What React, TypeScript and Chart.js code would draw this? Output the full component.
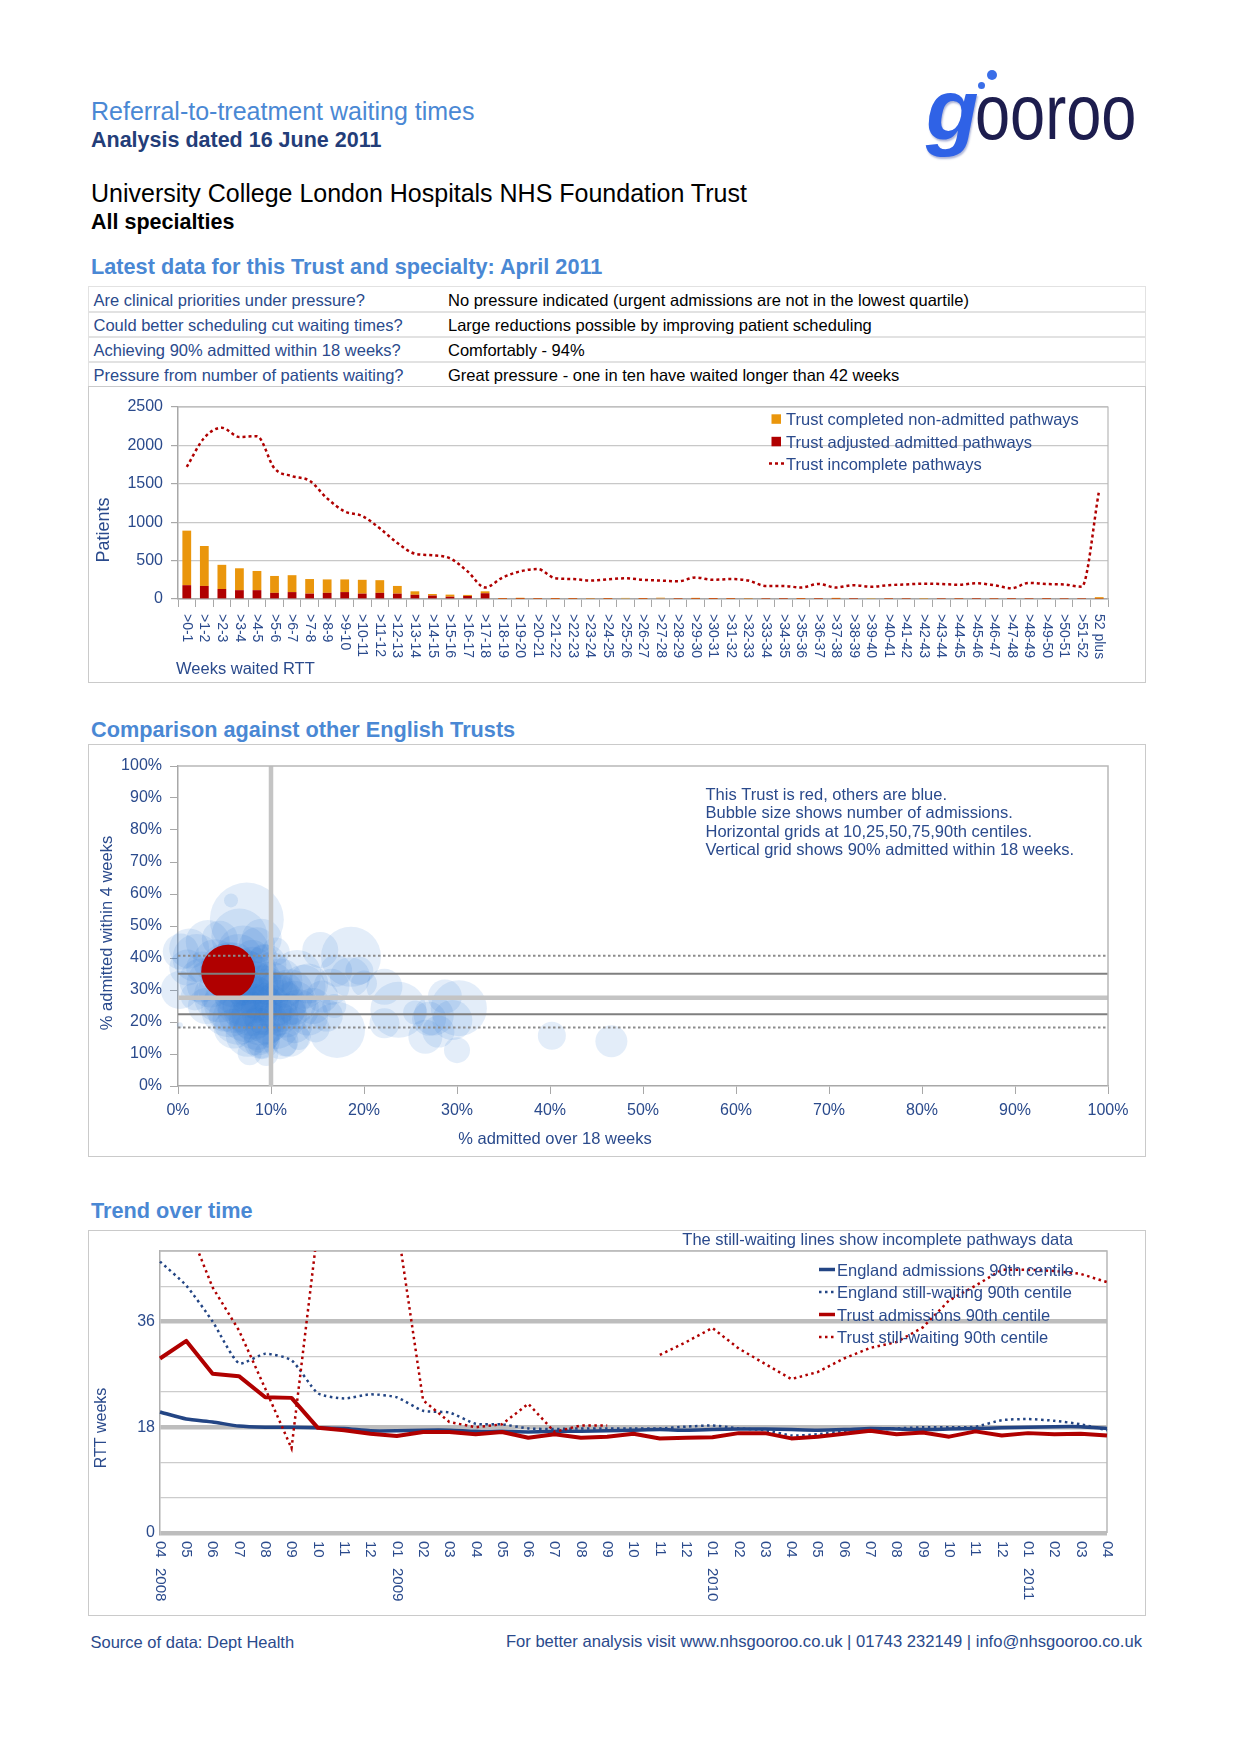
import React, { useEffect, useRef } from 'react';
import { Chart, registerables } from 'chart.js';

Chart.register(...registerables);

const FONT = '"Liberation Sans", Arial, Helvetica, sans-serif';
const NAVY = '#2a4a8c';
const TITLE_BLUE = '#4a88d4';
const DARK_NAVY = '#233d78';
const RED = '#b00000';
const ORANGE = '#ea960c';

Chart.defaults.font.family = FONT;
Chart.defaults.color = NAVY;

// ---------------- Summary table ----------------
const questions = [
  'Are clinical priorities under pressure?',
  'Could better scheduling cut waiting times?',
  'Achieving 90% admitted within 18 weeks?',
  'Pressure from number of patients waiting?',
];
const answers = [
  'No pressure indicated (urgent admissions are not in the lowest quartile)',
  'Large reductions possible by improving patient scheduling',
  'Comfortably - 94%',
  'Great pressure - one in ten have waited longer than 42 weeks',
];

// ---------------- Chart 1: weeks waited ----------------
const weekBands = [
  '>0-1', '>1-2', '>2-3', '>3-4', '>4-5', '>5-6', '>6-7', '>7-8', '>8-9', '>9-10',
  '>10-11', '>11-12', '>12-13', '>13-14', '>14-15', '>15-16', '>16-17', '>17-18', '>18-19', '>19-20',
  '>20-21', '>21-22', '>22-23', '>23-24', '>24-25', '>25-26', '>26-27', '>27-28', '>28-29', '>29-30',
  '>30-31', '>31-32', '>32-33', '>33-34', '>34-35', '>35-36', '>36-37', '>37-38', '>38-39', '>39-40',
  '>40-41', '>41-42', '>42-43', '>43-44', '>44-45', '>45-46', '>46-47', '>47-48', '>48-49', '>49-50',
  '>50-51', '>51-52', '52 plus',
];
const nonAdmittedPathways = [
  710, 520, 315, 285, 250, 220, 220, 190, 175, 165, 180, 165, 100, 45, 20, 27, 13, 25,
  10, 14, 8, 10, 9, 6, 9, 6, 10, 8, 6, 12, 10, 9, 6, 5, 6, 10, 6, 12, 5, 5, 6, 5, 6, 5, 6, 5, 6, 6, 5, 7, 5, 5,
  20,
];
const admittedPathways = [
  180, 170, 130, 115, 115, 80, 90, 70, 80, 90, 70, 80, 70, 55, 45, 30, 40, 75,
  3, 2, 3, 3, 3, 6, 3, 8, 3, 9, 3, 3, 2, 3, 6, 3, 2, 3, 2, 3, 2, 8, 3, 3, 7, 3, 3, 2, 3, 2, 3, 2, 3, 3,
  4,
];
const incompletePathways = [
  1720, 2100, 2230, 2110, 2120, 1700, 1600, 1540, 1310, 1140, 1080, 920, 730, 590, 570, 530, 360, 150,
  280, 360, 390, 270, 260, 240, 255,
  270, 250, 240, 230, 280, 250, 260, 240, 170, 170, 150, 195, 150, 180, 160, 180, 190, 200, 195, 185, 205, 180, 140, 210, 195, 190, 160, 1420,
];
const patientAxis = [0, 2500, 500]; // min, max, step

// ---------------- Chart 2: comparison bubbles ----------------
// other trusts: % admitted over 18 weeks, % admitted within 4 weeks, bubble size (admissions)
const otherTrustsX = [
  7.4, 5.7, 6.6, 9.0, 4.5,
  1.2, 2.0, 0.3, 0.2, 3.2, 2.6, 1.0, 2.5, 3.5, 1.8, 3.0, 0.2,
  4.0, 5.0, 6.5, 6.0, 8.0, 9.2, 5.5, 8.5, 10.5, 7.0,
  4.5, 5.5, 6.5, 7.5, 8.5, 9.5, 10.5, 11.5, 12.5,
  7.0, 8.0, 9.0, 10.0, 6.0, 8.0, 9.5, 11.0, 12.0, 13.0,
  7.5, 9.0, 11.0, 6.0, 5.0, 14.0, 13.5,
  7.5, 8.5, 9.5, 6.5, 8.0, 9.0, 10.5, 11.5, 7.0,
  8.0, 9.5, 10.8, 12.0, 9.0, 7.7, 9.0, 12.0, 12.5,
  4.5, 10.0, 12.8, 14.0, 13.0, 14.5, 15.5, 14.8, 9.5, 11.5,
  15.3, 18.6, 17.0, 18.5, 16.5, 20.0, 22.2, 16.0, 17.1, 16.8, 19.5,
  23.7, 22.2, 27.0, 26.6, 28.7, 30.2, 29.5, 30.0, 28.0, 25.5, 27.5,
  40.2, 46.6,
  6.0, 8.0, 10.0, 7.0, 9.0, 11.0, 5.0, 8.5,
];
const otherTrustsY = [
  52, 58, 46.7, 46, 46,
  43, 40, 42, 30, 45, 37, 37, 33, 32, 28, 25, 19,
  39, 37, 40, 38, 40, 40, 40, 44, 42, 42,
  28, 24, 21, 23, 20, 24, 19, 22, 26,
  27, 31, 29, 32, 32, 36, 38, 33, 29, 24,
  16, 14, 14, 18, 22, 22, 31,
  36, 33, 31, 30, 28, 26, 28, 30, 25,
  22, 20, 22, 24, 16, 10.2, 13, 15.4, 19,
  36, 35, 35, 32, 15, 25, 28, 18, 10, 13,
  42.5, 40.4, 36, 34, 31, 32, 31, 22, 17.5, 25, 36,
  23.8, 19.6, 21, 15.4, 28, 24.3, 20.6, 11.2, 17, 23, 22,
  15.7, 14,
  26, 25, 27, 34, 22, 25, 30, 17,
];
const otherTrustsSize = [
  37, 7, 28, 20, 18,
  20, 24, 18, 19, 22, 16, 18, 22, 24, 14, 18, 3,
  22, 24, 24, 22, 18, 14, 16, 18, 14, 26,
  26, 28, 26, 30, 28, 26, 24, 22, 22,
  28, 26, 28, 22, 24, 24, 20, 22, 24, 20,
  22, 18, 18, 20, 16, 20, 22,
  20, 24, 18, 26, 22, 20, 24, 18, 20,
  24, 22, 20, 16, 18, 12, 14, 20, 18,
  20, 22, 24, 20, 12, 18, 16, 14, 12, 12,
  18, 30, 16, 20, 18, 13, 18, 16, 28, 12, 14,
  28, 15, 17, 17, 17, 28, 20, 13, 16, 12, 20,
  14, 16,
  30, 30, 28, 28, 30, 26, 26, 24,
];
const thisTrustX = [5.4];
const thisTrustY = [35.7];
const thisTrustSize = [27];
const centileValues = [18.3, 22.4, 27.6, 35.1, 40.7]; // 10th, 25th, 50th, 75th, 90th
const targetOver18Weeks = 10;
const comparisonNotes = [
  'This Trust is red, others are blue.',
  'Bubble size shows number of admissions.',
  'Horizontal grids at 10,25,50,75,90th centiles.',
  'Vertical grid shows 90% admitted within 18 weeks.',
];

// ---------------- Chart 3: trend over time ----------------
const monthLabels = [
  '04', '05', '06', '07', '08', '09', '10', '11', '12',
  '01', '02', '03', '04', '05', '06', '07', '08', '09', '10', '11', '12',
  '01', '02', '03', '04', '05', '06', '07', '08', '09', '10', '11', '12',
  '01', '02', '03', '04',
];
const yearLabels = [
  '2008', '', '', '', '', '', '', '', '',
  '2009', '', '', '', '', '', '', '', '', '', '', '',
  '2010', '', '', '', '', '', '', '', '', '', '', '',
  '2011', '', '', '',
];
const englandAdmissions = [
  20.6, 19.4, 18.9, 18.2, 18.0, 18.0, 17.9, 17.8, 17.4, 17.4, 17.5, 17.5, 17.3, 17.3, 17.2, 17.3, 17.3, 17.4, 17.5,
  17.6, 17.5, 17.6, 17.7, 17.7, 17.6, 17.5, 17.6, 17.8, 17.7, 17.6, 17.7, 17.8, 17.9, 18.0, 18.1, 18.1, 17.8,
];
const englandStillWaiting = [
  46.2, 42.1, 36.0, 28.9, 30.5, 29.4, 23.8, 22.9, 23.6, 23.1, 20.8, 20.5, 18.6, 18.5, 17.8, 17.7, 17.8, 17.8, 17.8,
  17.8, 18.1, 18.3, 17.8, 17.5, 16.6, 16.8, 17.3, 17.5, 17.8, 18.0, 18.0, 18.1, 19.2, 19.4, 19.1, 18.5, 17.5,
];
const trustAdmissions = [
  29.7, 32.7, 27.1, 26.7, 23.1, 23.0, 17.9, 17.5, 16.9, 16.5, 17.2, 17.2, 16.8, 17.2, 16.2, 16.8, 16.2, 16.4, 16.9,
  16.1, 16.2, 16.3, 17.0, 17.0, 16.1, 16.4, 16.9, 17.4, 16.8, 17.1, 16.4, 17.3, 16.6, 17.0, 16.8, 16.9, 16.6,
];
const trustStillWaiting = [
  56, 53, 41.8, 34.5, 24.6, 14.4, 52, 60, 60, 53, 22.6, 18.9, 18.0, 18.5, 22.0, 17.2, 18.3, 18.3, null,
  30.3, 32.5, 34.9, 31.4, 28.8, 26.2, 27.4, 29.7, 31.5, 32.5, 35.0, 39.6, 42.1, 44.8, 44.8, 44.6, 44.1, 42.7,
];
const rttAxis = [0, 48, 6]; // min, max, step
const rttLabelledTicks = [0, 18, 36];

// ---------------- helpers ----------------
type TP = {
  x: number; base: number; size: number; color?: string; bold?: boolean; italic?: boolean;
  right?: boolean; children: React.ReactNode; style?: React.CSSProperties;
};
function Txt({ x, base, size, color = '#000', bold, italic, right, children, style }: TP) {
  const s: React.CSSProperties = {
    position: 'absolute', top: base - 0.8465 * size, fontSize: size, lineHeight: `${size}px`, color,
    fontWeight: bold ? 'bold' : 'normal', fontStyle: italic ? 'italic' : 'normal', whiteSpace: 'nowrap',
    fontFamily: FONT, ...style,
  };
  if (right) s.right = 1240 - x; else s.left = x;
  return <div style={s}>{children}</div>;
}

function ChartCanvas({ left, top, width, height, build }: { left: number; top: number; width: number; height: number; build: () => any }) {
  const ref = useRef<HTMLCanvasElement>(null);
  useEffect(() => {
    const chart = new Chart(ref.current as HTMLCanvasElement, build());
    return () => chart.destroy();
  }, []);
  return <canvas ref={ref} width={width} height={height} style={{ position: 'absolute', left, top, width, height }} />;
}

function drawTopRight(ctx: CanvasRenderingContext2D, a: any, color: string, w: number) {
  ctx.save();
  ctx.strokeStyle = color; ctx.lineWidth = w;
  ctx.beginPath(); ctx.moveTo(a.left, a.top); ctx.lineTo(a.right, a.top); ctx.lineTo(a.right, a.bottom); ctx.stroke();
  ctx.restore();
}

// ---------------- Chart 1 config ----------------
function buildBars() {
  const plugin = {
    id: 'barDecor',
    beforeDatasetsDraw(chart: any) { drawTopRight(chart.ctx, chart.chartArea, '#b8b8b8', 1.2); },
    afterDraw(chart: any) {
      const { ctx, chartArea: a, scales } = chart;
      ctx.save();
      ctx.fillStyle = NAVY;
      ctx.font = `14px ${FONT}`;
      ctx.textAlign = 'left'; ctx.textBaseline = 'middle';
      weekBands.forEach((lab, i) => {
        const x = scales.x.getPixelForValue(i);
        ctx.save(); ctx.translate(x, a.bottom + 15); ctx.rotate(Math.PI / 2); ctx.fillText(lab, 0, 0); ctx.restore();
      });
      ctx.textBaseline = 'alphabetic';
      ctx.font = `16.5px ${FONT}`;
      ctx.fillText('Weeks waited RTT', 88, 288);
      ctx.save(); ctx.translate(16, 144); ctx.rotate(-Math.PI / 2); ctx.textAlign = 'center'; ctx.textBaseline = 'middle';
      ctx.font = `18px ${FONT}`; ctx.fillText('Patients', 0, 0); ctx.restore();
      // legend
      const ds = chart.data.datasets;
      const items = [ds[2], ds[1], ds[0]];
      const bases = [39, 61.5, 83.5];
      ctx.font = `16.5px ${FONT}`;
      items.forEach((d: any, i: number) => {
        const b = bases[i];
        if (d.type === 'line') {
          ctx.save(); ctx.strokeStyle = d.borderColor; ctx.lineWidth = 2.5; ctx.setLineDash([3, 3]);
          ctx.beginPath(); ctx.moveTo(681, b - 6); ctx.lineTo(697, b - 6); ctx.stroke(); ctx.restore();
        } else {
          ctx.fillStyle = d.backgroundColor; ctx.fillRect(683.5, b - 10.7, 9.5, 9.5);
        }
        ctx.fillStyle = NAVY; ctx.fillText(d.label, 698, b);
      });
      ctx.restore();
    },
  };
  return {
    type: 'bar',
    data: {
      labels: weekBands,
      datasets: [
        { type: 'line', label: 'Trust incomplete pathways', data: incompletePathways, borderColor: RED, borderWidth: 2.5, borderDash: [3, 3],
          pointRadius: 0, fill: false, cubicInterpolationMode: 'monotone', order: 0 },
        { type: 'bar', label: 'Trust adjusted admitted pathways', data: admittedPathways, backgroundColor: RED, order: 1,
          barPercentage: 0.5, categoryPercentage: 1 },
        { type: 'bar', label: 'Trust completed non-admitted pathways', data: nonAdmittedPathways, backgroundColor: ORANGE, order: 1,
          barPercentage: 0.5, categoryPercentage: 1 },
      ],
    },
    options: {
      responsive: false, animation: false, events: [],
      layout: { autoPadding: false, padding: { left: 0, top: 21, right: 37, bottom: 0 } },
      plugins: { legend: { display: false }, tooltip: { enabled: false } },
      scales: {
        x: {
          stacked: true, offset: true,
          grid: { display: true, drawOnChartArea: false, drawTicks: true, tickLength: 8, tickColor: '#a8a8a8', offset: true },
          border: { display: true, color: '#a8a8a8', width: 1.5 },
          ticks: { display: false, autoSkip: false },
          afterFit: (s: any) => { s.height = 83; },
        },
        y: {
          stacked: true, min: patientAxis[0], max: patientAxis[1],
          ticks: { stepSize: patientAxis[2], callback: (v: any) => String(v), color: NAVY, font: { size: 16, family: FONT }, padding: 8 },
          grid: { color: '#c8c8c8', lineWidth: 1.2, tickLength: 7, tickColor: '#a8a8a8' },
          border: { display: true, color: '#a8a8a8', width: 1.5 },
          afterFit: (s: any) => { s.width = 90; },
        },
      },
    },
    plugins: [plugin],
  };
}

// ---------------- Chart 2 config ----------------
function buildBubbles() {
  const plugin = {
    id: 'bubbleDecor',
    afterDatasetsDraw(chart: any) {
      const { ctx, chartArea: a, scales: { x, y } } = chart;
      ctx.save();
      centileValues.forEach((v, i) => {
        const py = y.getPixelForValue(v);
        ctx.setLineDash([]);
        if (i === 0 || i === 4) { ctx.strokeStyle = '#8c8c8c'; ctx.lineWidth = 2; ctx.setLineDash([2.5, 2.5]); }
        else if (i === 2) { ctx.strokeStyle = '#c4c4c4'; ctx.lineWidth = 4.5; }
        else { ctx.strokeStyle = '#7f7f7f'; ctx.lineWidth = 2; }
        ctx.beginPath(); ctx.moveTo(a.left, py); ctx.lineTo(a.right, py); ctx.stroke();
      });
      ctx.setLineDash([]);
      const px = x.getPixelForValue(targetOver18Weeks);
      ctx.strokeStyle = '#c4c4c4'; ctx.lineWidth = 4.5;
      ctx.beginPath(); ctx.moveTo(px, a.top); ctx.lineTo(px, a.bottom); ctx.stroke();
      ctx.restore();
    },
    afterDraw(chart: any) {
      const { ctx, chartArea: a } = chart;
      drawTopRight(ctx, a, '#b8b8b8', 1.5);
      ctx.save();
      ctx.fillStyle = NAVY;
      ctx.font = `16.5px ${FONT}`;
      ctx.textAlign = 'left'; ctx.textBaseline = 'alphabetic';
      const bases = [56, 74.3, 92.7, 111];
      comparisonNotes.forEach((t, i) => ctx.fillText(t, 617.5, bases[i]));
      ctx.textAlign = 'center';
      ctx.fillText('% admitted over 18 weeks', 467, 400);
      ctx.save(); ctx.translate(19, 189); ctx.rotate(-Math.PI / 2); ctx.textBaseline = 'middle';
      ctx.fillText('% admitted within 4 weeks', 0, 0); ctx.restore();
      ctx.restore();
    },
  };
  const pct = (v: any) => `${v}%`;
  return {
    type: 'bubble',
    data: {
      datasets: [
        { label: 'This Trust', data: thisTrustX.map((v, i) => ({ x: v, y: thisTrustY[i], r: thisTrustSize[i] })),
          backgroundColor: RED, borderWidth: 0, order: 0, clip: false },
        { label: 'Other Trusts', data: otherTrustsX.map((v, i) => ({ x: v, y: otherTrustsY[i], r: otherTrustsSize[i] })),
          backgroundColor: 'rgba(58,124,216,0.14)', borderWidth: 0, order: 1, clip: false },
      ],
    },
    options: {
      responsive: false, animation: false, events: [],
      layout: { autoPadding: false, padding: { left: 0, top: 22, right: 37, bottom: 0 } },
      plugins: { legend: { display: false }, tooltip: { enabled: false } },
      scales: {
        x: {
          type: 'linear', min: 0, max: 100,
          ticks: { stepSize: 10, callback: pct, color: NAVY, font: { size: 16, family: FONT }, padding: 7 },
          grid: { drawOnChartArea: false, tickLength: 8, tickColor: '#a8a8a8' },
          border: { display: true, color: '#a8a8a8', width: 1.5 },
          afterFit: (s: any) => { s.height = 71; },
        },
        y: {
          type: 'linear', min: 0, max: 100,
          ticks: { stepSize: 10, callback: pct, color: NAVY, font: { size: 16, family: FONT }, padding: 8 },
          grid: { drawOnChartArea: false, tickLength: 8, tickColor: '#a8a8a8' },
          border: { display: true, color: '#a8a8a8', width: 1.5 },
          afterFit: (s: any) => { s.width = 90; },
        },
      },
    },
    plugins: [plugin],
  };
}

// ---------------- Chart 3 config ----------------
function buildTrend() {
  const plugin = {
    id: 'trendDecor',
    beforeDatasetsDraw(chart: any) { drawTopRight(chart.ctx, chart.chartArea, '#b8b8b8', 1.5); },
    afterDraw(chart: any) {
      const { ctx, chartArea: a, scales } = chart;
      ctx.save();
      ctx.fillStyle = NAVY;
      ctx.font = `15px ${FONT}`;
      ctx.textAlign = 'left'; ctx.textBaseline = 'middle';
      monthLabels.forEach((m, i) => {
        const x = scales.x.getPixelForValue(i);
        ctx.save(); ctx.translate(x, a.bottom + 8); ctx.rotate(Math.PI / 2);
        ctx.fillText(m, 0, 0);
        if (yearLabels[i]) ctx.fillText(yearLabels[i], 27, 0);
        ctx.restore();
      });
      ctx.textBaseline = 'alphabetic';
      ctx.font = `16.5px ${FONT}`;
      ctx.textAlign = 'right';
      ctx.fillText('The still-waiting lines show incomplete pathways data', 985, 15);
      ctx.textAlign = 'left';
      const bases = [45.5, 68, 90.5, 113];
      chart.data.datasets.forEach((d: any, i: number) => {
        const b = bases[i];
        ctx.save(); ctx.strokeStyle = d.borderColor; ctx.lineWidth = d.borderDash ? 2.5 : 3.5;
        ctx.setLineDash(d.borderDash || []);
        ctx.beginPath(); ctx.moveTo(731, b - 6); ctx.lineTo(747, b - 6); ctx.stroke(); ctx.restore();
        ctx.fillStyle = NAVY; ctx.fillText(d.label, 749, b);
      });
      ctx.save(); ctx.translate(14, 198); ctx.rotate(-Math.PI / 2); ctx.textAlign = 'center'; ctx.textBaseline = 'middle';
      ctx.font = `16px ${FONT}`; ctx.fillText('RTT weeks', 0, 0); ctx.restore();
      ctx.restore();
    },
  };
  const isMajor = (ctx: any) => ctx.tick && rttLabelledTicks.includes(ctx.tick.value);
  return {
    type: 'line',
    data: {
      labels: monthLabels,
      datasets: [
        { label: 'England admissions 90th centile', data: englandAdmissions, borderColor: '#234584', borderWidth: 3.5, pointRadius: 0, tension: 0.2, order: 3, borderJoinStyle: 'round' },
        { label: 'England still-waiting 90th centile', data: englandStillWaiting, borderColor: '#234584', borderWidth: 2.5, borderDash: [2.5, 3.5], pointRadius: 0, tension: 0.2, order: 2 },
        { label: 'Trust admissions 90th centile', data: trustAdmissions, borderColor: RED, borderWidth: 4, pointRadius: 0, tension: 0, order: 1, borderJoinStyle: 'round' },
        { label: 'Trust still-waiting 90th centile', data: trustStillWaiting, borderColor: RED, borderWidth: 2.5, borderDash: [2.5, 3.5], pointRadius: 0, tension: 0, order: 0, spanGaps: false },
      ],
    },
    options: {
      responsive: false, animation: false, events: [],
      layout: { autoPadding: false, padding: { left: 0, top: 21, right: 38, bottom: 0 } },
      plugins: { legend: { display: false }, tooltip: { enabled: false } },
      scales: {
        x: {
          grid: { display: false }, border: { display: false }, ticks: { display: false, autoSkip: false },
          afterFit: (s: any) => { s.height = 83; },
        },
        y: {
          min: rttAxis[0], max: rttAxis[1],
          ticks: { stepSize: rttAxis[2], callback: (v: any) => (rttLabelledTicks.includes(v) ? String(v) : ''), color: NAVY, font: { size: 16, family: FONT }, padding: 5 },
          grid: { drawTicks: false, color: (c: any) => (isMajor(c) ? '#bdbdbd' : '#cccccc'), lineWidth: (c: any) => (isMajor(c) ? 4.5 : 1.2) },
          border: { display: true, color: '#b0b0b0', width: 1.5 },
          afterFit: (s: any) => { s.width = 72; },
        },
      },
    },
    plugins: [plugin],
  };
}

const frame = (left: number, top: number, w: number, h: number): React.CSSProperties => ({
  position: 'absolute', left, top, width: w, height: h, border: '1.5px solid #cacaca', boxSizing: 'border-box',
});

export default function App() {
  const rowTops = [286, 311, 336, 361];
  return (
    <div style={{ position: 'absolute', left: 0, top: 0, width: 1240, height: 1755, background: '#fff', overflow: 'hidden', fontFamily: FONT }}>
      {/* header */}
      <Txt x={91} base={120.5} size={25} color={TITLE_BLUE}>Referral-to-treatment waiting times</Txt>
      <Txt x={91} base={148} size={21.5} bold color={DARK_NAVY}>Analysis dated 16 June 2011</Txt>
      <Txt x={91} base={202.5} size={25} color="#000">University College London Hospitals NHS Foundation Trust</Txt>
      <Txt x={91} base={230} size={21.5} bold color="#000">All specialties</Txt>

      {/* logo */}
      <Txt x={926} base={139} size={86} bold italic color="#2f62e6" style={{ textShadow: '1px 2px 2px rgba(20,40,140,0.35)' }}>g</Txt>
      <Txt x={975} base={139} size={77} color="#1d1d4e" style={{ transform: 'scaleX(0.82)', transformOrigin: 'left center' }}>ooroo</Txt>
      <div style={{ position: 'absolute', left: 987, top: 70, width: 10, height: 10, borderRadius: 5, background: '#3a6ee8' }} />
      <div style={{ position: 'absolute', left: 978, top: 82, width: 7, height: 7, borderRadius: 4, background: '#3a6ee8' }} />

      <Txt x={91} base={274} size={21.7} bold color={TITLE_BLUE}>Latest data for this Trust and specialty: April 2011</Txt>

      {/* table */}
      <div style={{ position: 'absolute', left: 88, top: 286, width: 1058, height: 101, border: '1.5px solid #e2e2e2', boxSizing: 'border-box' }} />
      {rowTops.slice(1).map((t) => (
        <div key={t} style={{ position: 'absolute', left: 88, top: t, width: 1058, height: 1.5, background: '#e2e2e2' }} />
      ))}
      {questions.map((q, i) => (
        <Txt key={'q' + i} x={93.5} base={rowTops[i] + 20} size={16.5} color={NAVY}>{q}</Txt>
      ))}
      {answers.map((q, i) => (
        <Txt key={'a' + i} x={448} base={rowTops[i] + 20} size={16.5} color="#000">{q}</Txt>
      ))}

      {/* chart 1 */}
      <div style={frame(88, 386, 1058, 297)} />
      <ChartCanvas left={88} top={386} width={1057} height={296} build={buildBars} />

      <Txt x={91} base={737} size={21.7} bold color={TITLE_BLUE}>Comparison against other English Trusts</Txt>
      <div style={frame(88, 744, 1058, 413)} />
      <ChartCanvas left={88} top={744} width={1057} height={413} build={buildBubbles} />

      <Txt x={91} base={1218.5} size={21.7} bold color={TITLE_BLUE}>Trend over time</Txt>
      <div style={frame(88, 1230, 1058, 386)} />
      <ChartCanvas left={88} top={1230} width={1057} height={386} build={buildTrend} />

      {/* footer */}
      <Txt x={90.5} base={1648} size={16.5} color={NAVY}>Source of data: Dept Health</Txt>
      <Txt x={1142} base={1648} size={16.6} color={NAVY} right>For better analysis visit www.nhsgooroo.co.uk | 01743 232149 | info@nhsgooroo.co.uk</Txt>
    </div>
  );
}
